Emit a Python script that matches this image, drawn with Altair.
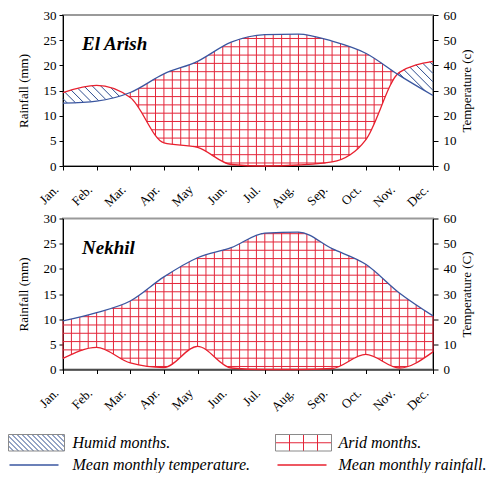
import altair as alt
import pandas as pd
import numpy as np

# ---------------- data ----------------
months = ["Jan.", "Feb.", "Mar.", "Apr.", "May", "Jun.",
          "Jul.", "Aug.", "Sep.", "Oct.", "Nov.", "Dec."]
arish_rain = [14.6, 16.0, 13.6, 4.6, 3.7, 0.3, 0.0, 0.2, 0.8, 5.2, 18.6, 20.8]
arish_temp = [25.0, 25.8, 29.2, 36.6, 41.6, 49.2, 52.2, 52.4, 49.6, 44.8, 36.0, 28.0]
nekhil_rain = [2.2, 4.4, 1.3, 0.4, 4.6, 0.3, 0.0, 0.0, 0.2, 3.0, 0.3, 3.5]
nekhil_temp = [19.3, 22.6, 27.2, 36.8, 44.4, 48.4, 54.2, 54.6, 48.0, 41.8, 30.4, 21.3]
rain_ticks = [0, 5, 10, 15, 20, 25, 30]
temp_ticks = [0, 10, 20, 30, 40, 50, 60]
legend_labels = ["Humid months.", "Arid months.",
                 "Mean monthly temperature.", "Mean monthly rainfall."]

# ---------------- styling ----------------
W, H = 370, 151
RAIN_MAX, TEMP_MAX = 30, 60
FONT = "Liberation Serif"
BLUE = "#3a56a0"
RED = "#e8202e"
GRID_RED = "#e3263a"
HATCH_BLUE = "#2c4b8e"
FRAME = "#9a9a9a"


# d3 monotoneX curve, so the hatching follows the lines Vega draws
def tangents(ys):
    ys = np.asarray(ys, float)
    n = len(ys)
    t = np.zeros(n)
    for i in range(1, n - 1):
        s0 = ys[i] - ys[i - 1]
        s1 = ys[i + 1] - ys[i]
        p = (s0 + s1) / 2
        t[i] = (np.sign(s0) + np.sign(s1)) * min(abs(s0), abs(s1), 0.5 * abs(p))
    t[0] = (3 * (ys[1] - ys[0]) - t[1]) / 2
    t[-1] = (3 * (ys[-1] - ys[-2]) - t[-2]) / 2
    return t


def curve(ys, xq):
    ys = np.asarray(ys, float)
    t = tangents(ys)
    i = np.clip(np.floor(xq).astype(int), 0, len(ys) - 2)
    u = xq - i
    h00 = 2 * u**3 - 3 * u**2 + 1
    h10 = u**3 - 2 * u**2 + u
    h01 = -2 * u**3 + 3 * u**2
    h11 = u**3 - u**2
    return h00 * ys[i] + h10 * t[i] + h01 * ys[i + 1] + h11 * t[i + 1]


def runs(mask):
    d = np.diff(np.concatenate([[0], mask.astype(int), [0]]))
    return list(zip(np.where(d == 1)[0], np.where(d == -1)[0] - 1))


def hatch_segments(rain, temp):
    xq = np.linspace(0, 11, 11 * 800 + 1)
    half = [v / 2 for v in temp]
    r = curve(rain, xq)
    t = curve(half, xq)
    segs = []
    # arid: vertical lines every quarter month
    for j in range(0, 45):
        x = j * 0.25
        if x > 11:
            break
        rv = float(curve(rain, np.array([x]))[0])
        tv = float(curve(half, np.array([x]))[0])
        if tv > rv:
            segs.append(dict(x=x, x2=x, y=max(rv, 0), y2=tv, kind="arid"))
    # arid: horizontal lines
    sp = 8.3 / (H / RAIN_MAX)
    v = 0.6
    while v < RAIN_MAX:
        for s, e in runs((r < v) & (v < t)):
            segs.append(dict(x=xq[s], x2=xq[e], y=v, y2=v, kind="arid"))
        v += sp
    # humid: diagonal lines at 45 degrees on screen
    k = (W / 11) / (H / RAIN_MAX)
    j = 0
    while j * 0.25 - 11 <= RAIN_MAX / k + 1:
        L = k * (j * 0.25 - xq)
        for s, e in runs((t < L) & (L < r)):
            segs.append(dict(x=xq[s], x2=xq[e], y=L[s], y2=L[e], kind="humid"))
        j += 1
    return pd.DataFrame(segs, columns=["x", "x2", "y", "y2", "kind"])


label_expr = "[" + ",".join("'" + m + "'" for m in months) + "][datum.value]"
xscale = alt.Scale(domain=[0, 11], nice=False, zero=False)
rain_scale = alt.Scale(domain=[0, RAIN_MAX], nice=False)
temp_scale = alt.Scale(domain=[0, TEMP_MAX], nice=False)

x_axis = alt.Axis(values=list(range(12)), labelExpr=label_expr, labelAngle=315,
                  labelAlign="right", labelBaseline="middle", labelPadding=17,
                  labelOffset=-7, tickSize=4, title=None, labelFont=FONT,
                  labelFontSize=13, labelColor="black", domainColor="black",
                  tickColor="black", labelOverlap=False, labelBound=False)
left_axis = alt.Axis(values=rain_ticks, orient="left", title="Rainfall (mm)",
                     titleFont=FONT, titleFontSize=13, titleFontWeight="normal",
                     titleColor="black", labelFont=FONT, labelFontSize=13,
                     labelColor="black", tickSize=4, labelPadding=3,
                     titlePadding=13, domainColor="black", tickColor="black")


def right_axis(title):
    return alt.Axis(values=temp_ticks, orient="right", title=title, titleAngle=270,
                    titleBaseline="top",
                    titleFont=FONT, titleFontSize=13, titleFontWeight="normal",
                    titleColor="black", labelFont=FONT, labelFontSize=13,
                    labelColor="black", tickSize=5, labelPadding=5,
                    titlePadding=4, domainColor="black", tickColor="black")


def panel(name, rain, temp, temp_title):
    df = pd.DataFrame({"m": list(range(12)), "month": months, "rain": rain, "temp": temp})
    segs = hatch_segments(rain, temp)
    layers = []
    for kind, col in (("arid", GRID_RED), ("humid", HATCH_BLUE)):
        part = segs[segs.kind == kind]
        if len(part):
            layers.append(alt.Chart(part).mark_rule(color=col, strokeWidth=1).encode(
                x=alt.X("x:Q", scale=xscale, axis=x_axis), x2="x2:Q",
                y=alt.Y("y:Q", scale=rain_scale, axis=None), y2="y2:Q"))
    rain_line = alt.Chart(df).mark_line(interpolate="monotone", color=RED, strokeWidth=1.3).encode(
        x=alt.X("m:Q", scale=xscale, axis=x_axis),
        y=alt.Y("rain:Q", scale=rain_scale, axis=left_axis))
    temp_line = alt.Chart(df).mark_line(interpolate="monotone", color=BLUE, strokeWidth=1.3).encode(
        x=alt.X("m:Q", scale=xscale, axis=x_axis),
        y=alt.Y("temp:Q", scale=temp_scale, axis=right_axis(temp_title)))
    title = alt.Chart(pd.DataFrame({"t": [name]})).mark_text(
        font=FONT, fontSize=19, fontStyle="italic", fontWeight="bold",
        align="left", baseline="middle", color="black").encode(
        x=alt.value(19), y=alt.value(29), text="t:N")
    return alt.layer(*layers, rain_line, temp_line, title).resolve_scale(
        y="independent").properties(width=W, height=H,
                                    view=alt.ViewBackground(stroke=FRAME, strokeWidth=2))


top = panel("El Arish", arish_rain, arish_temp, "Temperature (c)")
bottom = panel("Nekhil", nekhil_rain, nekhil_temp, "Temperature (C)")

# ---------------- legend panel (pixel coordinates) ----------------
BOX_Y0, BOX_Y1 = 12.5, 29
ROW1, ROW2 = 21, 43
hx0, hx1 = -54.5, 1.5
ax0, ax1 = 212.5, 268.5
TX1, TX2 = 9.5, 275.5

leg_segs = []
d = hx0 - BOX_Y1
while d <= hx1 - BOX_Y0:
    xa = max(hx0, BOX_Y0 + d)
    xb = min(hx1, BOX_Y1 + d)
    if xb > xa:
        leg_segs.append(dict(x=xa, x2=xb, y=xa - d, y2=xb - d, c=HATCH_BLUE))
    d += 5
for i in range(5):
    xx = ax0 + i * (ax1 - ax0) / 4
    leg_segs.append(dict(x=xx, x2=xx, y=BOX_Y0, y2=BOX_Y1, c=GRID_RED))
leg_segs.append(dict(x=ax0, x2=ax1, y=(BOX_Y0 + BOX_Y1) / 2, y2=(BOX_Y0 + BOX_Y1) / 2, c=GRID_RED))
leg_seg_df = pd.DataFrame(leg_segs)

line_df = pd.DataFrame([dict(x=-53.5, x2=-4.5, y=ROW2, y2=ROW2, c=BLUE),
                        dict(x=214.5, x2=263.5, y=ROW2, y2=ROW2, c=RED)])
box_df = pd.DataFrame([dict(x=hx0, x2=hx1, y=BOX_Y0, y2=BOX_Y1),
                       dict(x=ax0, x2=ax1, y=BOX_Y0, y2=BOX_Y1)])
text_df = pd.DataFrame({"label": legend_labels,
                        "x": [TX1, TX2, TX1, TX2],
                        "y": [ROW1, ROW1, ROW2, ROW2]})

px = lambda f: alt.X(f, scale=None, axis=None)
py = lambda f: alt.Y(f, scale=None, axis=None)

legend = alt.layer(
    alt.Chart(leg_seg_df).mark_rule(strokeWidth=1).encode(
        x=px("x:Q"), x2="x2:Q", y=py("y:Q"), y2="y2:Q", color=alt.Color("c:N", scale=None)),
    alt.Chart(box_df).mark_rect(filled=False, color="#8a8a8a", strokeWidth=1).encode(
        x=px("x:Q"), x2="x2:Q", y=py("y:Q"), y2="y2:Q"),
    alt.Chart(line_df).mark_rule(strokeWidth=1.5).encode(
        x=px("x:Q"), x2="x2:Q", y=py("y:Q"), y2="y2:Q", color=alt.Color("c:N", scale=None)),
    alt.Chart(text_df).mark_text(font=FONT, fontSize=16, fontStyle="italic", align="left",
                                 baseline="middle", color="black").encode(
        x=px("x:Q"), y=py("y:Q"), text="label:N"),
).properties(width=W, height=50)

chart = alt.vconcat(top, bottom, legend, spacing=52.5, bounds="flush").properties(
    padding=0).configure_view(strokeWidth=0).configure_axis(grid=False)

chart.save("out.html", embed_options={"renderer": "svg", "actions": False})
